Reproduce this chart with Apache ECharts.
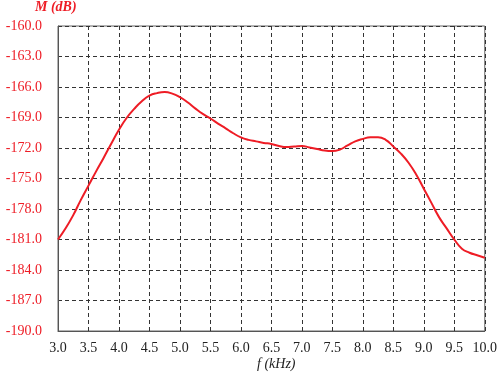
<!DOCTYPE html>
<html>
<head>
<meta charset="utf-8">
<script src="https://cdn.jsdelivr.net/npm/echarts@6/dist/echarts.min.js"></script>
<style>html,body{margin:0;padding:0;background:#fff}#c{width:500px;height:375px}</style>
</head>
<body>
<div id="c"></div>
<script>
var freq = [3.0, 3.125, 3.25, 3.375, 3.5, 3.625, 3.75, 3.875, 4.0, 4.125, 4.25, 4.375, 4.5, 4.625, 4.75, 4.875, 5.0, 5.125, 5.25, 5.375, 5.5, 5.625, 5.75, 5.875, 6.0, 6.125, 6.25, 6.375, 6.5, 6.625, 6.75, 6.875, 7.0, 7.125, 7.25, 7.375, 7.5, 7.625, 7.75, 7.875, 8.0, 8.125, 8.25, 8.375, 8.5, 8.625, 8.75, 8.875, 9.0, 9.125, 9.25, 9.375, 9.5, 9.625, 9.75, 9.875, 10.0];
var magnitude = [-181.0, -179.9, -178.6, -177.1, -175.7, -174.3, -172.95, -171.55, -170.2, -169.05, -168.15, -167.4, -166.85, -166.6, -166.5, -166.65, -167.0, -167.5, -168.1, -168.65, -169.1, -169.6, -170.07, -170.55, -170.95, -171.2, -171.35, -171.5, -171.6, -171.8, -171.9, -171.85, -171.8, -171.95, -172.1, -172.25, -172.3, -172.15, -171.75, -171.35, -171.1, -170.95, -170.95, -171.2, -171.85, -172.55, -173.45, -174.6, -176.0, -177.4, -178.8, -179.9, -181.0, -181.9, -182.3, -182.55, -182.8];
var yTitle = 'M (dB)';
var xTitle = 'f (kHz)';

var serif = 'Liberation Serif';
var chart = echarts.init(document.getElementById('c'));
chart.setOption({
  animation: false,
  backgroundColor: '#fff',
  grid: {left: 58, right: 12, top: 26, bottom: 44, show: true, borderColor: '#666', borderWidth: 1, backgroundColor: 'transparent'},
  xAxis: {
    type: 'value', min: 3, max: 10, interval: 0.5,
    axisLine: {show: true, lineStyle: {color: '#555', width: 1}},
    axisTick: {show: false},
    axisLabel: {color: '#222', fontFamily: serif, fontSize: 14, margin: 10, formatter: function(v){return v.toFixed(1);}},
    splitLine: {show: true, lineStyle: {color: '#333', type: [4, 3], width: 1}}
  },
  yAxis: {
    type: 'value', min: -190, max: -160, interval: 3,
    axisLine: {show: true, lineStyle: {color: '#555', width: 1}},
    axisTick: {show: false},
    axisLabel: {color: '#ee1c25', fontFamily: serif, fontSize: 14, margin: 16, formatter: function(v){return v.toFixed(1);}},
    splitLine: {show: true, lineStyle: {color: '#333', type: [4, 3], width: 1}}
  },
  graphic: [
    {type: 'text', left: 35, top: 0, style: {text: yTitle, fill: '#ee1c25', fontFamily: serif, fontSize: 14, fontStyle: 'italic', fontWeight: 'bold'}},
    {type: 'text', left: 257, top: 357, style: {text: xTitle, fill: '#222', fontFamily: serif, fontSize: 14, fontStyle: 'italic'}}
  ],
  series: [{
    type: 'line', smooth: 0.5, showSymbol: false,
    data: freq.map(function(f, i){return [f, magnitude[i]];}),
    lineStyle: {color: '#ee1c25', width: 2}
  }]
});
</script>
</body>
</html>
